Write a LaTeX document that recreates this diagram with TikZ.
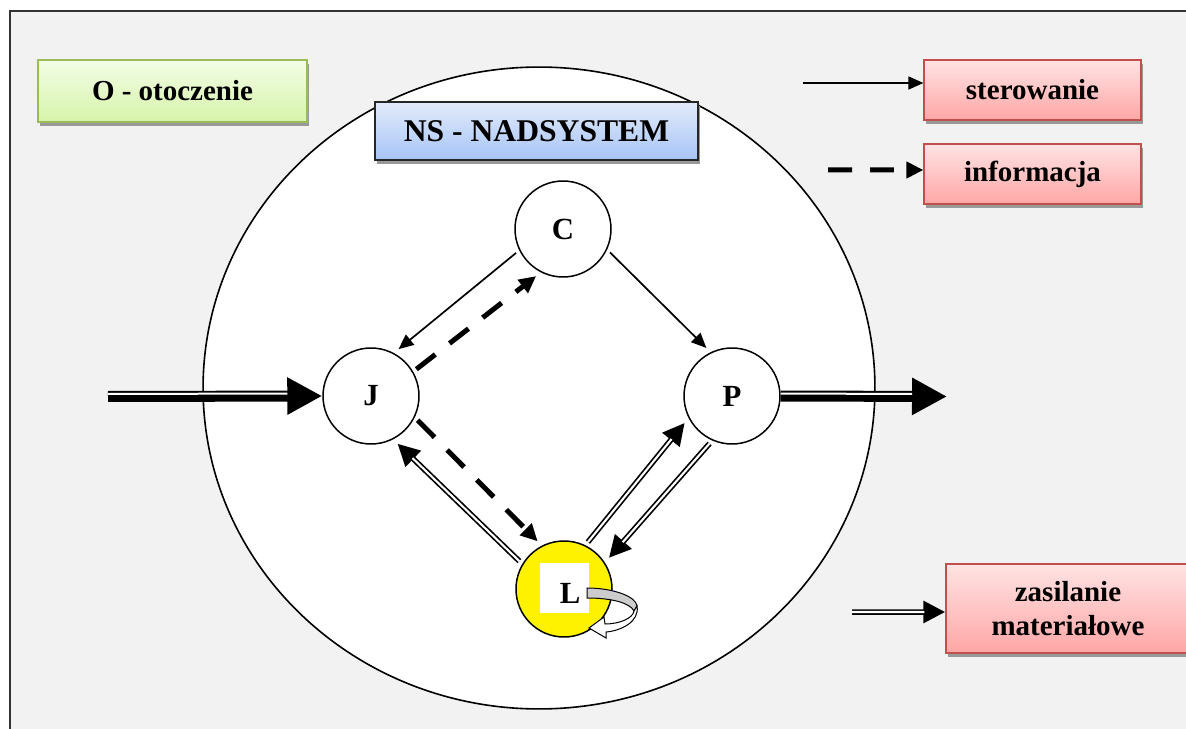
\documentclass[tikz,border=0pt]{standalone}
\usepackage{fontspec}
\setmainfont{Liberation Serif}
\usetikzlibrary{arrows.meta,shadows}
\definecolor{bggray}{HTML}{F2F2F2}
\definecolor{gtop}{HTML}{F3FDE6}
\definecolor{gbot}{HTML}{D6F4AA}
\definecolor{gline}{HTML}{9BBB59}
\definecolor{btop}{HTML}{E2EBFB}
\definecolor{bbot}{HTML}{A7C4F6}
\definecolor{rtop}{HTML}{FFE3E3}
\definecolor{rbot}{HTML}{FFA6A6}
\definecolor{rline}{HTML}{C0504D}
\begin{document}
\begin{tikzpicture}[x=0.02cm, y=-0.02cm,
  font=\fontsize{16.5}{19.3}\selectfont\bfseries,
  box/.style={rectangle, draw, line width=0.026cm, inner sep=0, align=center,
    drop shadow={shadow xshift=0.04cm, shadow yshift=-0.08cm, fill=black!40, opacity=1}},
  greenbox/.style={top color=gtop, bottom color=gbot, draw=gline},
  bluebox/.style={top color=btop, bottom color=bbot, draw=black!85},
  redbox/.style={top color=rtop, bottom color=rbot, draw=rline},
  nd/.style={circle, draw, line width=0.03cm, fill=white, minimum size=1.92cm, inner sep=0, font=\fontsize{17.5}{20}\selectfont\bfseries},
  ctl/.style={line width=0.034cm, -{Triangle[length=0.3cm,width=0.26cm]}, shorten >=0.12cm, shorten <=0.08cm},
  inf/.style={line width=0.1cm, dash pattern=on 0.48cm off 0.36cm, -{Triangle[length=0.34cm,width=0.32cm]}, shorten >=0.12cm, shorten <=0.08cm},
  dbl/.style={line width=0.11cm, -{Triangle[length=0.44cm,width=0.42cm]}, shorten >=#1, shorten <=0.08cm,
    postaction={draw=white, line width=0.042cm, -, shorten >=#1+0.42cm, shorten <=0.08cm}},
  dbl/.default=0.12cm,
  big/.style={line width=0.22cm, -{Triangle[length=0.7cm,width=0.7cm]}},
  gapline/.style={draw=white, line width=0.04cm}
]
\useasboundingbox (0,0) rectangle (1186,729);
\clip (0,0) rectangle (1186,729);
% frame
\fill[bggray] (10,11) rectangle (1200,740);
\draw[line width=0.04cm, black!80] (10,740) -- (10,11) -- (1200,11);
% supersystem
\draw[line width=0.032cm, fill=white] (539,388) ellipse [x radius=6.72cm, y radius=6.42cm];
% boxes
\node[box, greenbox, minimum width=5.38cm, minimum height=1.24cm] (O) at (172.5,91) {O - otoczenie};
\node[box, bluebox, minimum width=6.46cm, minimum height=1.16cm, font=\fontsize{18}{21}\selectfont\bfseries] (NS) at (536.5,131) {NS - NADSYSTEM};
\node[box, redbox, minimum width=4.34cm, minimum height=1.2cm] (ster) at (1032.5,90) {sterowanie};
\node[box, redbox, minimum width=4.34cm, minimum height=1.2cm] (info) at (1032.5,174) {informacja};
\node[box, redbox, minimum width=4.88cm, minimum height=1.78cm] (zas) at (1068,608.5) {zasilanie\\materiałowe};
% nodes
\node[nd] (C) at (563,229) {C};
\node[nd] (J) at (371,396) {J};
\node[nd] (P) at (732,396) {P};
\node[nd, fill=yellow] (L) at (564,589) {};
\node[fill=white, minimum width=0.98cm, minimum height=1cm, inner sep=0] (Lsq) at (564.5,588) {};
\node[font=\fontsize{17.5}{20}\selectfont\bfseries] (Ltext) at (570,593) {L};
% rotating arrow at L
\draw[line width=0.02cm, fill=black!20] (587,588) .. controls (612,588) and (636,596) .. (637,606) -- (634,611) .. controls (630,603) and (612,598) .. (587,598) -- cycle;
\draw[line width=0.02cm, fill=white] (637,606) .. controls (640,622) and (620,631) .. (606,632) -- (606,638) -- (589,628) -- (604,617) -- (605,624) .. controls (620,624) and (633,618) .. (634,611) -- cycle;
% connectors
\draw[ctl] (C.206) -- (J.62);
\draw[inf] (J.30) -- (C.243);
\draw[ctl] (C.-25) -- (P.116);
\draw[inf] (J.-26) -- (L.117);
\draw[dbl] (L.149) -- (J.-63);
\draw[dbl] (L.64) -- (P.207);
\draw[dbl] (P.246) -- (L.33);
% input / output
\coordinate (in) at (108,396.5);
\coordinate (out) at (947,396.5);
\draw[big] (in) -- (J.west);
\draw[gapline] ([yshift=0.05cm]in) -- ([yshift=0.05cm,xshift=-0.7cm]J.west);
\draw[big] (P.east) -- (out);
\draw[gapline] ([yshift=0.05cm]P.east) -- ([yshift=0.05cm,xshift=-0.7cm]out);
% legend
\coordinate (s0) at (803,83);
\coordinate (i0) at (828,170);
\coordinate (z0) at (848,612);
\draw[ctl, shorten >=0pt, shorten <=0pt] (s0) -- ([yshift=0.14cm]ster.west);
\draw[inf, shorten >=0pt, shorten <=0pt] (i0) -- ([yshift=0.08cm]info.west);
\draw[dbl=0cm] (z0) -- ([yshift=-0.07cm]zas.west);
\end{tikzpicture}
\end{document}
